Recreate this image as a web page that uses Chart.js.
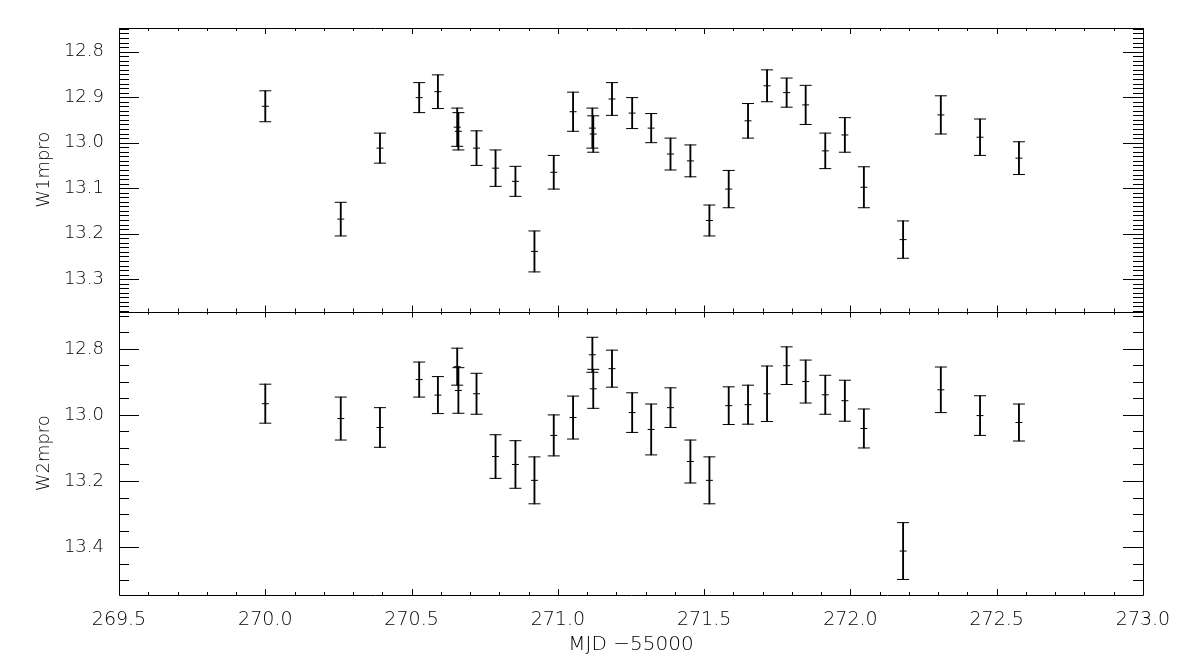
<!DOCTYPE html>
<html>
<head>
<meta charset="utf-8">
<script src="https://cdn.jsdelivr.net/npm/chart.js@4"></script>
<style>
  html, body { margin: 0; background: #fff; }
</style>
</head>
<body>
<canvas id="grafica" width="1200" height="663"></canvas>
<script>
// MJD - 55000
const mjd = [270.000, 270.258, 270.392, 270.526, 270.590, 270.656, 270.660, 270.722, 270.787, 270.855,
  270.920, 270.986, 271.052, 271.118, 271.121, 271.185, 271.254, 271.319, 271.385, 271.453,
  271.518, 271.584, 271.650, 271.715, 271.782, 271.847, 271.914, 271.981, 272.046, 272.180,
  272.309, 272.443, 272.576];

const w1 = [12.920, 13.168, 13.012, 12.901, 12.888, 12.966, 12.975, 13.012, 13.056, 13.085,
  13.239, 13.065, 12.932, 12.968, 12.981, 12.904, 12.935, 12.968, 13.025, 13.040,
  13.171, 13.102, 12.952, 12.875, 12.890, 12.917, 13.018, 12.983, 13.098, 13.213,
  12.939, 12.988, 13.034];
const w1Err = [0.034, 0.037, 0.033, 0.033, 0.037, 0.042, 0.041, 0.038, 0.040, 0.033,
  0.045, 0.037, 0.043, 0.044, 0.040, 0.036, 0.034, 0.032, 0.035, 0.035,
  0.034, 0.041, 0.038, 0.035, 0.032, 0.043, 0.039, 0.038, 0.045, 0.041,
  0.042, 0.040, 0.036];

const w2 = [12.966, 13.011, 13.038, 12.893, 12.940, 12.854, 12.926, 12.936, 13.126, 13.150,
  13.198, 13.062, 13.008, 12.818, 12.921, 12.860, 12.993, 13.044, 12.978, 13.141,
  13.198, 12.972, 12.969, 12.936, 12.851, 12.899, 12.939, 12.957, 13.041, 13.412,
  12.924, 13.002, 13.023];
const w2Err = [0.059, 0.065, 0.060, 0.053, 0.056, 0.056, 0.069, 0.062, 0.066, 0.072,
  0.071, 0.062, 0.065, 0.053, 0.059, 0.056, 0.060, 0.077, 0.060, 0.065,
  0.071, 0.057, 0.059, 0.084, 0.057, 0.065, 0.059, 0.062, 0.059, 0.086,
  0.069, 0.060, 0.056];

const xRango = [269.5, 273.0];
const y1Rango = [12.748, 13.371];
const y2Rango = [12.687, 13.545];

// paso menor, cada cuantos es mayor
const pasos = { x: [0.1, 5], y1: [0.01, 10], y2: [0.05, 4] };

const fuente = "'DejaVu Sans', sans-serif";
const peso = "200";

function barras(v, e) {
  return mjd.map((x, i) => ({ x: x, y: [v[i] - e[i], v[i] + e[i]] }));
}
function topes(v, e) {
  let d = [];
  for (let i = 0; i < mjd.length; i++) {
    d.push({ x: mjd[i], y: v[i] - e[i] });
    d.push({ x: mjd[i], y: v[i] + e[i] });
  }
  return d;
}
function centros(v) {
  return mjd.map((x, i) => ({ x: x, y: v[i] }));
}

function errorSets(v, e, eje) {
  return [
    { type: "bar", data: barras(v, e), yAxisID: eje, backgroundColor: "#000",
      borderWidth: 0, barThickness: 1.2, grouped: false },
    { data: topes(v, e), yAxisID: eje, pointStyle: "line", pointRadius: 6,
      pointBorderWidth: 1, pointBorderColor: "#000", pointBackgroundColor: "#000" },
    { data: centros(v), yAxisID: eje, pointStyle: "line", pointRadius: 3.5,
      pointBorderWidth: 1, pointBorderColor: "#000", pointBackgroundColor: "#000" },
  ];
}

// marcas hacia adentro y marco de cada panel, estilo IDL
const marcas = {
  id: "marcas",
  afterDatasetsDraw(chart) {
    const ctx = chart.ctx;
    const sx = chart.scales.x;
    const izq = chart.chartArea.left;
    const der = chart.chartArea.right;
    const r = (p) => Math.round(p) + 0.5;
    ctx.save();
    ctx.strokeStyle = "#000";
    ctx.lineWidth = 1;
    ctx.beginPath();
    ["y1", "y2"].forEach((id) => {
      const s = chart.scales[id];
      const arriba = s.top;
      const abajo = s.bottom;
      // marco
      ctx.moveTo(r(izq), r(arriba)); ctx.lineTo(r(der), r(arriba));
      ctx.lineTo(r(der), r(abajo)); ctx.lineTo(r(izq), r(abajo));
      ctx.lineTo(r(izq), r(arriba));
      // marcas eje y
      const [py, ny] = pasos[id];
      const k0 = Math.ceil(s.min / py - 1e-6);
      const k1 = Math.floor(s.max / py + 1e-6);
      for (let k = k0; k <= k1; k++) {
        const y = r(s.getPixelForValue(k * py));
        const largo = k % ny === 0 ? 20 : 10;
        ctx.moveTo(izq, y); ctx.lineTo(izq + largo, y);
        ctx.moveTo(der, y); ctx.lineTo(der - largo, y);
      }
      // marcas eje x
      const [px, nx] = pasos.x;
      const j0 = Math.ceil(sx.min / px - 1e-6);
      const j1 = Math.floor(sx.max / px + 1e-6);
      for (let j = j0; j <= j1; j++) {
        const x = r(sx.getPixelForValue(j * px));
        const largo = j % nx === 0 ? 6 : 3;
        ctx.moveTo(x, arriba); ctx.lineTo(x, arriba + largo);
        ctx.moveTo(x, abajo); ctx.lineTo(x, abajo - largo);
      }
    });
    ctx.stroke();
    ctx.restore();
  },
};

function ejeY(rango, paso, titulo) {
  return {
    type: "linear",
    position: "left",
    stack: "paneles",
    stackWeight: 1,
    reverse: true,
    min: rango[0],
    max: rango[1],
    grid: { display: false },
    border: { display: false },
    ticks: {
      stepSize: paso,
      includeBounds: false,
      padding: 7,
      color: "#000",
      font: { family: fuente, size: 18, weight: peso },
      callback: (v) => v.toFixed(1),
    },
    title: {
      display: true,
      text: titulo,
      color: "#000",
      font: { family: fuente, size: 18, weight: peso },
      padding: { top: 34, bottom: 0 },
    },
    afterFit: (s) => { s.width = 119; },
  };
}

new Chart("grafica", {
  type: "scatter",
  data: {
    datasets: [...errorSets(w1, w1Err, "y1"), ...errorSets(w2, w2Err, "y2")],
  },
  options: {
    responsive: false,
    animation: false,
    devicePixelRatio: 1,
    events: [],
    layout: { padding: { top: 28, right: 57, bottom: 0, left: 0 } },
    plugins: { legend: { display: false }, tooltip: { enabled: false } },
    scales: {
      x: {
        type: "linear",
        position: "bottom",
        offset: false,
        min: xRango[0],
        max: xRango[1],
        grid: { display: false, offset: false },
        border: { display: false },
        ticks: {
          stepSize: 0.5,
          padding: 6,
          color: "#000",
          maxRotation: 0,
          font: { family: fuente, size: 19, weight: peso },
          callback: (v) => v.toFixed(1),
        },
        title: {
          display: true,
          text: "MJD \u221255000",
          color: "#000",
          font: { family: fuente, size: 20, weight: peso },
          padding: { top: 0, bottom: 6 },
        },
        afterFit: (s) => { s.height = 68; },
      },
      // el ultimo eje definido queda arriba en la pila
      y2: ejeY(y2Rango, 0.2, "W2mpro"),
      y1: ejeY(y1Rango, 0.1, "W1mpro"),
    },
  },
  plugins: [marcas],
});
</script>
</body>
</html>
